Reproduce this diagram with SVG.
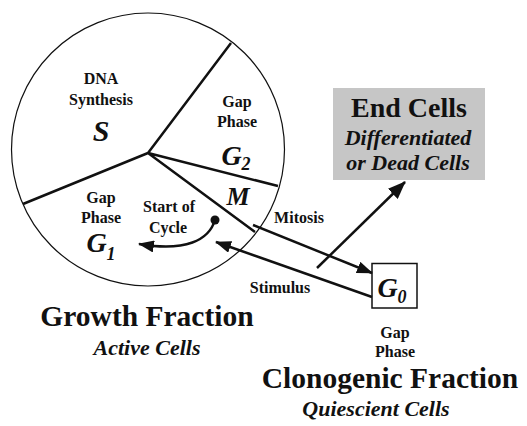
<svg xmlns="http://www.w3.org/2000/svg" width="527" height="426" viewBox="0 0 527 426" font-family="Liberation Serif, DejaVu Serif, serif">
<defs>
<style>
text{font-family:'Liberation Serif','DejaVu Serif',serif;font-weight:bold;fill:#111;text-anchor:middle}
.it{font-style:italic}
.sm{font-size:16px}
.big{font-size:29.5px}
.sub{font-size:22px}
.ln{stroke:#111;fill:none;stroke-width:2.5}
</style>
<marker id="ah" markerUnits="userSpaceOnUse" markerWidth="16" markerHeight="12" refX="15" refY="6" orient="auto"><path d="M0,0 L16,6 L0,12 Z" fill="#111"/></marker>
<marker id="ahb" markerUnits="userSpaceOnUse" markerWidth="18" markerHeight="14" refX="17" refY="7" orient="auto"><path d="M0,0 L18,7 L0,14 Z" fill="#111"/></marker>
</defs>
<rect width="527" height="426" fill="#fff"/>
<g id="cycle">
<circle cx="148" cy="149.5" r="136.5" fill="none" stroke="#111" stroke-width="1.2"/>
<path class="ln" d="M148,153 L231,43 M148,153 L23,204 M148,153 L278,186 M148,153 L255,232"/>
</g>
<g id="phase-s">
<text class="sm" x="101" y="84">DNA</text>
<text class="sm" x="101" y="105">Synthesis</text>
<text class="it" x="101" y="141" font-size="30">S</text>
</g>
<g id="phase-g2">
<text class="sm" x="237" y="107">Gap</text>
<text class="sm" x="237" y="127">Phase</text>
<text class="it" x="236" y="165" font-size="28">G<tspan font-size="18" dy="5">2</tspan></text>
</g>
<g id="phase-m">
<text class="it" x="238" y="205" font-size="26">M</text>
</g>
<g id="phase-g1">
<text class="sm" x="101" y="203">Gap</text>
<text class="sm" x="101" y="223">Phase</text>
<text class="it" x="101" y="252" font-size="28">G<tspan font-size="18" dy="8">1</tspan></text>
</g>
<g id="start">
<text class="sm" x="169" y="212">Start of</text>
<text class="sm" x="168" y="233">Cycle</text>
<circle cx="215" cy="220" r="4.5" fill="#111"/>
</g>
<g id="end-cells">
<rect x="333" y="88" width="152" height="92" fill="#c6c6c6"/>
<text x="409" y="117" font-size="28">End Cells</text>
<text class="it" x="408" y="145" font-size="22">Differentiated</text>
<text class="it" x="408" y="170" font-size="22">or Dead Cells</text>
</g>
<g id="g0">
<rect x="372" y="263.5" width="45" height="44.5" fill="#fff" stroke="#111" stroke-width="1.5"/>
<text class="it" x="392" y="297" font-size="28">G<tspan font-size="18" dy="6">0</tspan></text>
<text class="sm" x="395" y="338" font-size="15">Gap</text>
<text class="sm" x="395" y="357" font-size="15">Phase</text>
</g>
<g id="connectors">
<path class="ln" d="M253,225 L372,273" marker-end="url(#ah)"/>
<path class="ln" d="M372,297 L216,242" marker-end="url(#ah)"/>
<path class="ln" d="M317,268 L405,182" stroke-width="3.2" marker-end="url(#ahb)"/>
<path class="ln" d="M215,220 C209,240 186,252 139,244" marker-end="url(#ah)"/>
</g>
<g id="labels">
<text class="sm" x="299" y="223">Mitosis</text>
<text class="sm" x="280" y="293">Stimulus</text>
<text class="big" x="147" y="326">Growth Fraction</text>
<text class="it sub" x="147" y="355">Active Cells</text>
<text class="big" x="390" y="388">Clonogenic Fraction</text>
<text class="it sub" x="376" y="416">Quiescient Cells</text>
</g>
</svg>
